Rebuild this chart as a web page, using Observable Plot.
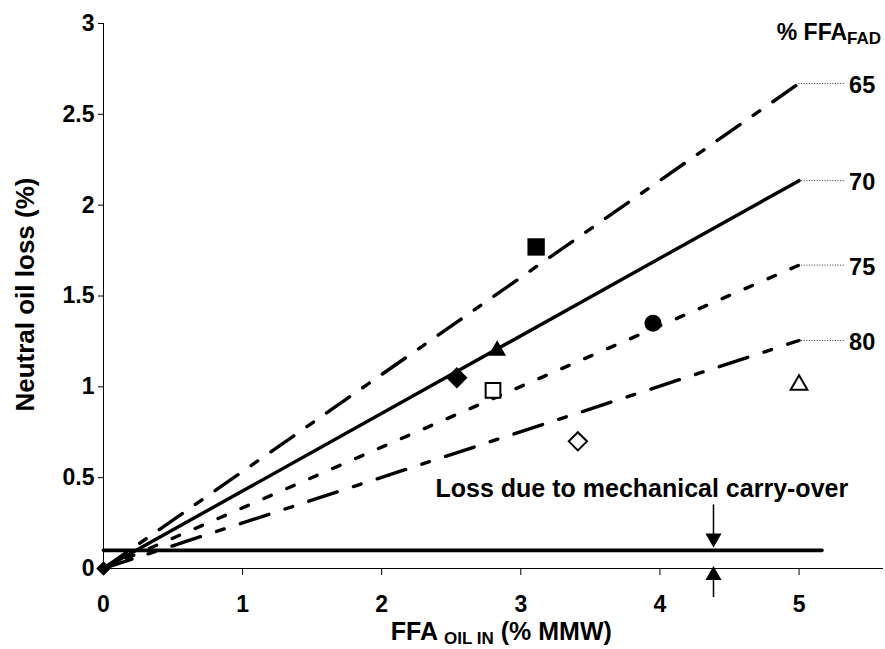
<!DOCTYPE html>
<html>
<head>
<meta charset="utf-8">
<script src="https://cdn.jsdelivr.net/npm/d3@7"></script>
<script src="https://cdn.jsdelivr.net/npm/@observablehq/plot@0.6"></script>
<style>
  html, body { margin: 0; padding: 0; background: #fff; }
  #chart svg { display: block; }
</style>
</head>
<body>
<div id="chart"></div>
<script>
// ---- data ----
const xTicks = [0, 1, 2, 3, 4, 5];
const yTicks = [0, 0.5, 1, 1.5, 2, 2.5, 3];
const ffaFad = [65, 70, 75, 80];            // % FFA in FAD, one line each
const lineX = [0, 5];                       // FFA oil in range of the lines
const lossAtFive = [2.67, 2.135, 1.67, 1.255]; // neutral oil loss at FFA = 5
const carryOverLoss = 0.1;
const carryOverX = [0, 5.165];
const markerX = [0, 3.11, 2.83, 2.54, 2.80, 3.41, 3.95, 5.0];
const markerY = [0, 1.77, 1.20, 1.05, 0.98, 0.70, 1.35, 1.01];
const markerSymbol = ["diamond", "square", "triangle", "diamond", "square", "diamond", "circle", "triangle"];
const markerFilled = [true, true, true, true, false, false, true, false];
const arrowX = 4.385;
const annotation = "Loss due to mechanical carry-over";

// ---- styles ----
const FONT = "'Liberation Sans', Arial, Helvetica, sans-serif";
const dashes = {65: "28,16,8,16", 70: null, 75: "8,17", 80: "30,17,8,17"};
const symbolStyle = {
  square:   {filled: {symbol: "square", r: 9.8},   open: {symbol: "square", r: 8.3}},
  triangle: {filled: {symbol: "triangle", r: 6.6}, open: {symbol: "triangle", r: 6.2}},
  diamond:  {filled: {symbol: "diamond2", r: 9.6}, open: {symbol: "diamond2", r: 8.2}},
  circle:   {filled: {symbol: "circle", r: 8.5},   open: {symbol: "circle", r: 7.5}}
};

const lineMarks = ffaFad.map((f, i) => {
  const pts = lineX.map(x => ({x, y: lossAtFive[i] * x / lineX[1]}));
  const opts = {x: "x", y: "y", stroke: "black", strokeWidth: 3.4};
  if (dashes[f]) opts.strokeDasharray = dashes[f];
  return Plot.line(pts, opts);
});

const markerMarks = markerX.map((mx, i) => {
  const st = symbolStyle[markerSymbol[i]][markerFilled[i] ? "filled" : "open"];
  return Plot.dot([i], {
    x: j => markerX[j], y: j => markerY[j],
    symbol: st.symbol, r: i === 0 ? 6.5 : st.r,
    fill: markerFilled[i] ? "black" : "white",
    stroke: "black", strokeWidth: markerFilled[i] ? 0 : 2
  });
});

const idx = ffaFad.map((d, i) => i);

const chart = Plot.plot({
  width: 885,
  height: 649,
  marginLeft: 103,
  marginRight: 3,
  marginTop: 23,
  marginBottom: 81,
  style: {fontFamily: FONT, fontSize: "23px", fontWeight: "bold", color: "black", background: "white"},
  x: {domain: [0, 5.6], ticks: xTicks, tickFormat: d => String(d), tickSize: 7, tickPadding: 20, line: true, label: null},
  y: {domain: [0, 3], ticks: yTicks, tickFormat: d => String(d), tickSize: 5, tickPadding: 4, line: true, label: null},
  marks: [
    ...lineMarks,
    Plot.line(carryOverX.map(x => ({x, y: carryOverLoss})), {x: "x", y: "y", stroke: "black", strokeWidth: 3.6}),
    ...markerMarks,
    // leader lines and labels of the FFA_FAD lines
    Plot.ruleY(idx, {y: i => lossAtFive[i], x1: 5.0, x2: 5.33, stroke: "#333", strokeWidth: 1, strokeDasharray: "1,1.6"}),
    Plot.text(idx, {x: 5.36, y: i => lossAtFive[i], text: i => String(ffaFad[i]), textAnchor: "start", dy: 2, fontSize: 23.5, fontWeight: "bold"}),
    Plot.text(["% FFA_{FAD}"], {x: 4.84, y: 2.95, text: d => d, textAnchor: "start", fontSize: 23, fontWeight: "bold"}),
    // mechanical carry-over annotation
    Plot.text([annotation], {x: 3.87, y: 0.44, text: d => d, textAnchor: "middle", fontSize: 25, fontWeight: "bold"}),
    Plot.ruleX([arrowX], {y1: 0.35, y2: 0.18, stroke: "black", strokeWidth: 1.5}),
    Plot.dot([arrowX], {x: d => d, y: 0.167, symbol: "triangle", r: 6, rotate: 180, fill: "black"}),
    Plot.ruleX([arrowX], {y1: -0.04, y2: -0.16, stroke: "black", strokeWidth: 1.5}),
    Plot.dot([arrowX], {x: d => d, y: -0.038, symbol: "triangle", r: 6, fill: "black"}),
    // axis titles
    Plot.text(["Neutral oil loss (%)"], {x: -0.56, y: 1.508, text: d => d, rotate: -90, textAnchor: "middle", fontSize: 26, fontWeight: "bold"}),
    Plot.text(["FFA _{OIL IN} (% MMW)"], {x: 2.86, y: -0.352, text: d => d, textAnchor: "middle", fontSize: 25, fontWeight: "bold"})
  ]
});

// turn _{...} into real subscript tspans
function applySubscripts(svg) {
  const ns = "http://www.w3.org/2000/svg";
  svg.querySelectorAll("text").forEach(node => {
    const s = node.textContent;
    if (!/_\{/.test(s)) return;
    while (node.firstChild) node.removeChild(node.firstChild);
    const re = /_\{([^}]*)\}/g;
    let last = 0, m, shifted = false;
    const add = (txt, sub) => {
      if (!txt) return;
      const t = document.createElementNS(ns, "tspan");
      t.textContent = txt;
      if (sub) { t.setAttribute("font-size", "17"); t.setAttribute("dy", "4"); shifted = true; }
      else if (shifted) { t.setAttribute("dy", "-4"); shifted = false; }
      node.appendChild(t);
    };
    while ((m = re.exec(s))) {
      add(s.slice(last, m.index), false);
      add(m[1], true);
      last = re.lastIndex;
    }
    add(s.slice(last), false);
  });
}
applySubscripts(chart);
document.getElementById("chart").appendChild(chart);
</script>
</body>
</html>
